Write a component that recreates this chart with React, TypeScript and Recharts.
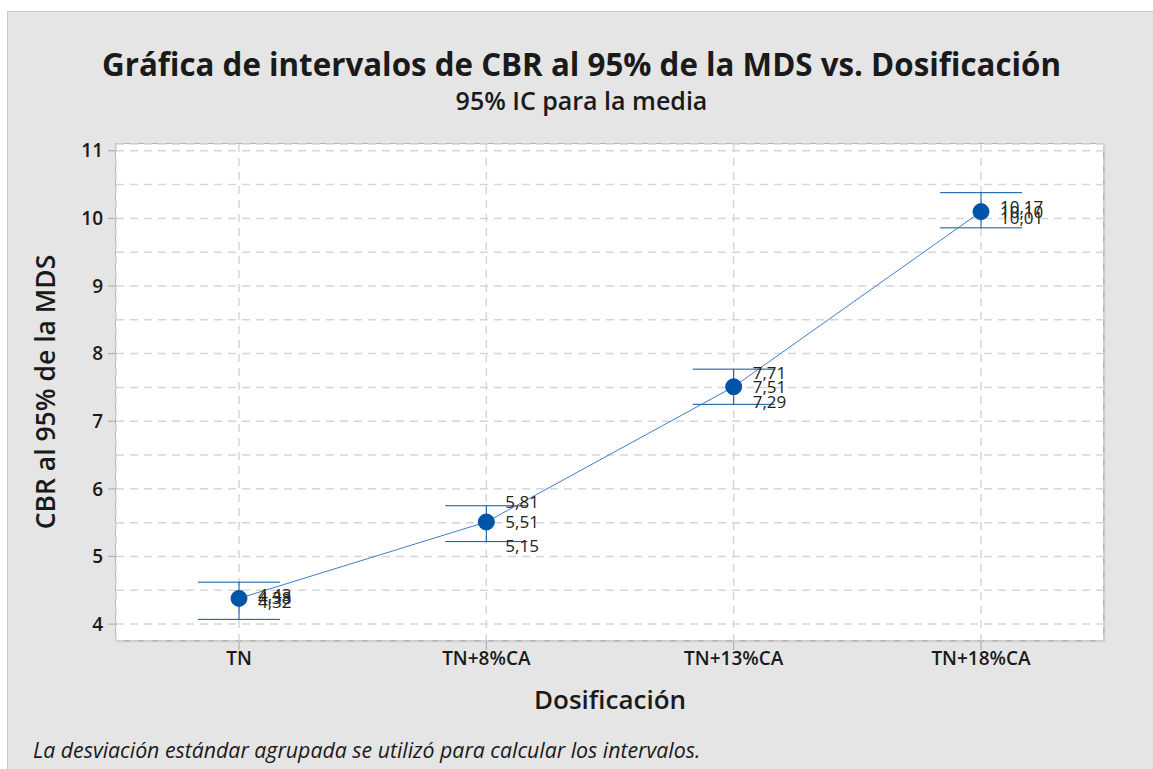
import React from "react";
import {
  CartesianGrid,
  ComposedChart,
  ErrorBar,
  Line,
  XAxis,
  YAxis,
} from "recharts";

// values
const categories = ["TN", "TN+8%CA", "TN+13%CA", "TN+18%CA"];
const means = [4.38, 5.51, 7.51, 10.1];
const lowerCaps = [4.07, 5.22, 7.25, 9.86];
const upperCaps = [4.62, 5.75, 7.77, 10.38];
const upperLabels = [4.43, 5.81, 7.71, 10.17];
const lowerLabels = [4.32, 5.15, 7.29, 10.01];
// grid every 0.5, labels only on whole numbers
const yTicks = [4, 4.5, 5, 5.5, 6, 6.5, 7, 7.5, 8, 8.5, 9, 9.5, 10, 10.5, 11];

const data = categories.map((cat, i) => ({
  cat,
  mean: means[i],
  err: [means[i] - lowerCaps[i], upperCaps[i] - means[i]],
  up: upperLabels[i],
  low: lowerLabels[i],
}));

const FONT = "'Open Sans', 'Noto Sans', sans-serif";
const BLUE = "#0054a6";
const TEXT = "#1a1a1a";

const fmt = (v: number) => v.toFixed(2).replace(".", ",");

const ValueLabel = (props: any) => {
  const { x, y, value } = props;
  if (x == null || y == null) return null;
  return (
    <text
      x={x + 19}
      y={y}
      dy="0.35em"
      fontSize={17}
      fontFamily={FONT}
      fill="#222"
    >
      {fmt(value)}
    </text>
  );
};

const YTick = (props: any) => {
  const { x, y, payload } = props;
  const v = payload.value;
  if (!Number.isInteger(v)) return null;
  return (
    <g>
      <line x1={x + 2} x2={x + 10} y1={y} y2={y} stroke="#a8a8a8" />
      <text
        x={x - 3}
        y={y}
        dy="0.35em"
        textAnchor="end"
        fontSize={19}
        fontWeight={600}
        fontFamily={FONT}
        fill={TEXT}
      >
        {v}
      </text>
    </g>
  );
};

export default function App() {
  return (
    <div
      style={{
        position: "absolute",
        left: 0,
        top: 0,
        width: 1153,
        height: 769,
        background: "#fff",
        overflow: "hidden",
        fontFamily: FONT,
      }}
    >
      {/* grey panel */}
      <div
        style={{
          position: "absolute",
          left: 7,
          top: 11,
          width: 1150,
          height: 762,
          background: "#e5e5e5",
          border: "1px solid #c8c8c8",
        }}
      />
      {/* plot area */}
      <div
        style={{
          position: "absolute",
          left: 115,
          top: 143,
          width: 989,
          height: 498,
          background: "#fff",
          border: "1px solid #b4b4b4",
          boxSizing: "border-box",
          boxShadow: "1px 1px 1px #c4c4c4",
        }}
      />
      <div
        style={{
          position: "absolute",
          left: 0,
          top: 45,
          width: 1163,
          textAlign: "center",
          fontSize: 31.3,
          fontWeight: 700,
          color: TEXT,
          lineHeight: "38px",
        }}
      >
        Gráfica de intervalos de CBR al 95% de la MDS vs. Dosificación
      </div>
      <div
        style={{
          position: "absolute",
          left: 0,
          top: 84,
          width: 1163,
          textAlign: "center",
          fontSize: 25,
          fontWeight: 600,
          color: TEXT,
          lineHeight: "32px",
        }}
      >
        95% IC para la media
      </div>
      <div
        style={{
          position: "absolute",
          left: 45,
          top: 392,
          transform: "translate(-50%, -50%) rotate(-90deg)",
          whiteSpace: "nowrap",
          fontSize: 26.5,
          fontWeight: 600,
          color: TEXT,
        }}
      >
        CBR al 95% de la MDS
      </div>
      <div
        style={{
          position: "absolute",
          left: 610,
          top: 699,
          transform: "translate(-50%, -50%)",
          whiteSpace: "nowrap",
          fontSize: 26,
          fontWeight: 600,
          color: TEXT,
        }}
      >
        Dosificación
      </div>
      <div
        style={{
          position: "absolute",
          left: 33,
          top: 735,
          fontSize: 21.3,
          fontStyle: "italic",
          color: TEXT,
          whiteSpace: "nowrap",
        }}
      >
        La desviación estándar agrupada se utilizó para calcular los intervalos.
      </div>
      <div style={{ position: "absolute", left: 0, top: 0 }}>
        <ComposedChart
          width={1153}
          height={769}
          data={data}
          margin={{ top: 144, right: 49, bottom: 88, left: 56 }}
        >
          <CartesianGrid
            stroke="#d6d6d6"
            strokeDasharray="8 6"
            strokeWidth={1.5}
          />
          <XAxis
            dataKey="cat"
            padding={{ left: 123, right: 123 }}
            axisLine={false}
            tickLine={{ stroke: "#a8a8a8" }}
            tickSize={9}
            height={40}
            tick={{ fontSize: 19, fontWeight: 600, fill: TEXT, fontFamily: FONT }}
          />
          <YAxis
            domain={[3.75, 11.1]}
            ticks={yTicks}
            axisLine={false}
            tickLine={false}
            tickSize={8}
            width={60}
            interval={0}
            tick={<YTick />}
          />
          <Line
            dataKey="mean"
            stroke="#3f7fc6"
            strokeWidth={1}
            isAnimationActive={false}
            dot={{ r: 8, fill: BLUE, stroke: BLUE, strokeWidth: 1 }}
            activeDot={false}
            label={<ValueLabel />}
          >
            <ErrorBar
              dataKey="err"
              direction="y"
              width={41}
              stroke={BLUE}
              strokeWidth={1}
              isAnimationActive={false}
            />
          </Line>
          <Line
            dataKey="up"
            stroke="none"
            dot={false}
            activeDot={false}
            isAnimationActive={false}
            label={<ValueLabel />}
          />
          <Line
            dataKey="low"
            stroke="none"
            dot={false}
            activeDot={false}
            isAnimationActive={false}
            label={<ValueLabel />}
          />
        </ComposedChart>
      </div>
    </div>
  );
}
